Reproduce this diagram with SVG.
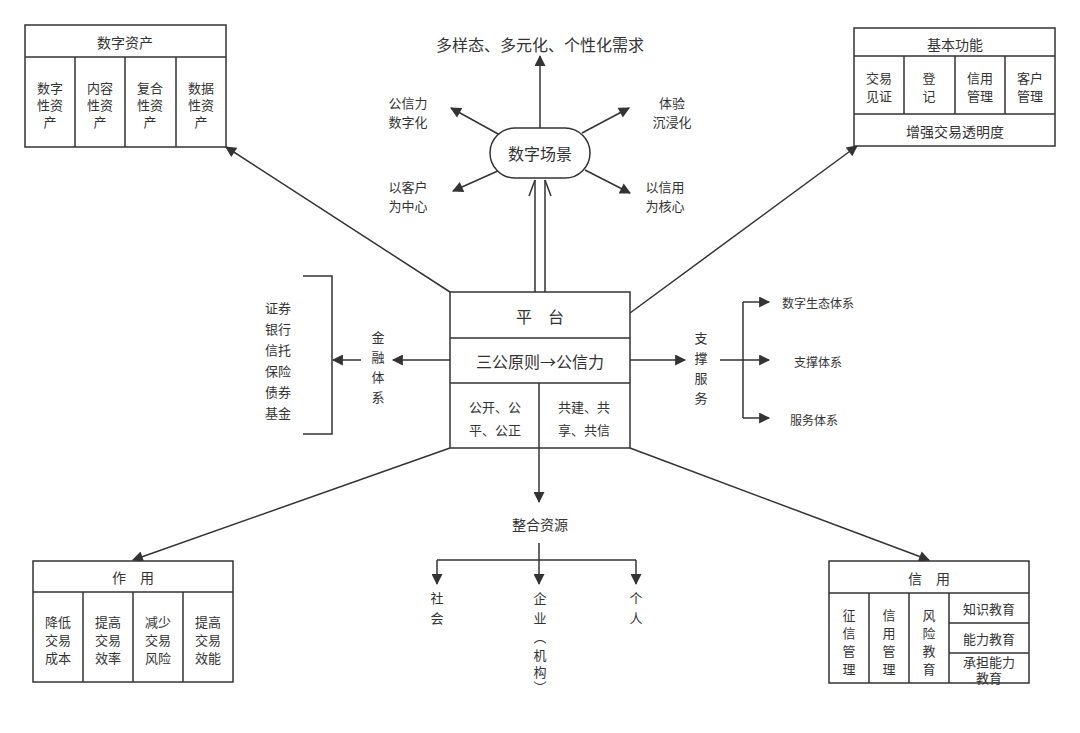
<svg xmlns="http://www.w3.org/2000/svg" width="1080" height="733" viewBox="0 0 1080 733">
<style>
text{font-family:"Noto Sans CJK SC","Liberation Sans",sans-serif;fill:#333;text-anchor:middle;dominant-baseline:central}
.s{font-size:13px}.m{font-size:14px}.l{font-size:16px}.x{font-size:12px}
.b{fill:#fff;stroke:#333;stroke-width:1.5}
.ln{fill:none;stroke:#333;stroke-width:1.5}
.c{fill:none;stroke:#333;stroke-width:1.5;marker-end:url(#a)}
</style>
<defs>
<marker id="a" viewBox="0 0 10 10" refX="9" refY="5" markerWidth="13" markerHeight="11" orient="auto" markerUnits="userSpaceOnUse"><path d="M0,0L10,5L0,10z" fill="#333"/></marker>
</defs>
<rect width="1080" height="733" fill="#fff"/>
<g id="connectors">
<path class="c" d="M450,292L226,147"/>
<path class="c" d="M630,313L857,146"/>
<path class="c" d="M450,448L133,560"/>
<path class="c" d="M630,448L929,560"/>
<path class="ln" d="M535,292V180M545,292V180"/>
<path class="ln" d="M535,180L529,196M545,180L551,196"/>
<path class="c" d="M540,128V56"/>
<path class="c" d="M500,135L451,108"/>
<path class="c" d="M582,133L629,108"/>
<path class="c" d="M500,170L453,191"/>
<path class="c" d="M585,170L630,193"/>
<path class="c" d="M450,360H393"/>
<path class="c" d="M361,360H333"/>
<path class="ln" d="M303,276H332V434H303"/>
<path class="c" d="M630,360H685"/>
<path class="c" d="M720,360H769"/>
<path class="ln" d="M743,302V418"/>
<path class="c" d="M743,302H769"/>
<path class="c" d="M743,418H769"/>
<path class="c" d="M539,448V502"/>
<path class="c" d="M539,543V584"/>
<path class="ln" d="M437,560H636"/>
<path class="c" d="M437,560V584"/>
<path class="c" d="M636,560V584"/>
</g>
<g id="digital-assets">
<rect class="b" x="25" y="25" width="201" height="122"/>
<path class="ln" d="M25,57H226M75,57V147M125,57V147M176,57V147"/>
<text class="m" x="125" y="42">数字资产</text>
<text class="s" x="50" y="87">数字</text><text class="s" x="50" y="104">性资</text><text class="s" x="50" y="121">产</text>
<text class="s" x="100" y="87">内容</text><text class="s" x="100" y="104">性资</text><text class="s" x="100" y="121">产</text>
<text class="s" x="150" y="87">复合</text><text class="s" x="150" y="104">性资</text><text class="s" x="150" y="121">产</text>
<text class="s" x="201" y="87">数据</text><text class="s" x="201" y="104">性资</text><text class="s" x="201" y="121">产</text>
</g>
<g id="basic-functions">
<rect class="b" x="854" y="28" width="201" height="118"/>
<path class="ln" d="M854,56H1055M854,114H1055M904,56V114M955,56V114M1005,56V114"/>
<text class="m" x="955" y="44">基本功能</text>
<text class="s" x="879" y="77">交易</text><text class="s" x="879" y="95">见证</text>
<text class="s" x="929" y="77">登</text><text class="s" x="929" y="95">记</text>
<text class="s" x="980" y="77">信用</text><text class="s" x="980" y="95">管理</text>
<text class="s" x="1030" y="77">客户</text><text class="s" x="1030" y="95">管理</text>
<text class="m" x="955" y="131">增强交易透明度</text>
</g>
<g id="scene">
<rect class="b" x="490" y="128" width="100" height="50" rx="25"/>
<text class="l" x="540" y="153">数字场景</text>
</g>
<g id="scene-labels">
<text class="l" x="540" y="44">多样态、多元化、个性化需求</text>
<text class="s" x="408" y="102">公信力</text><text class="s" x="408" y="121">数字化</text>
<text class="s" x="672" y="102">体验</text><text class="s" x="672" y="121">沉浸化</text>
<text class="s" x="408" y="186">以客户</text><text class="s" x="408" y="205">为中心</text>
<text class="s" x="665" y="186">以信用</text><text class="s" x="665" y="205">为核心</text>
</g>
<g id="platform">
<rect class="b" x="450" y="292" width="180" height="156"/>
<path class="ln" d="M450,338H630M450,383H630M539,383V448"/>
<text class="l" x="540" y="316">平　台</text>
<text class="l" x="540" y="361">三公原则→公信力</text>
<text class="s" x="495" y="406">公开、公</text><text class="s" x="495" y="429">平、公正</text>
<text class="s" x="584" y="406">共建、共</text><text class="s" x="584" y="429">享、共信</text>
</g>
<g id="finance">
<text class="s" x="378" y="336">金</text><text class="s" x="378" y="356">融</text><text class="s" x="378" y="376">体</text><text class="s" x="378" y="396">系</text>
<text class="s" x="278" y="307">证券</text><text class="s" x="278" y="328">银行</text><text class="s" x="278" y="349">信托</text><text class="s" x="278" y="370">保险</text><text class="s" x="278" y="391">债券</text><text class="s" x="278" y="412">基金</text>
</g>
<g id="support">
<text class="s" x="701" y="337">支</text><text class="s" x="701" y="357">撑</text><text class="s" x="701" y="377">服</text><text class="s" x="701" y="397">务</text>
<text class="x" x="818" y="302">数字生态体系</text>
<text class="x" x="818" y="361">支撑体系</text>
<text class="x" x="814" y="419">服务体系</text>
</g>
<g id="resources">
<text class="m" x="540" y="524">整合资源</text>
<text class="s" x="437" y="597">社</text><text class="s" x="437" y="617">会</text>
<text class="s" x="540" y="597">企</text><text class="s" x="540" y="617">业</text><text class="s" x="540" y="636">︵</text><text class="s" x="540" y="654">机</text><text class="s" x="540" y="671">构</text><text class="s" x="540" y="686">︶</text>
<text class="s" x="636" y="597">个</text><text class="s" x="636" y="617">人</text>
</g>
<g id="role">
<rect class="b" x="33" y="561" width="200" height="121"/>
<path class="ln" d="M33,592H233M83,592V682M133,592V682M183,592V682"/>
<text class="m" x="133" y="577">作　用</text>
<text class="s" x="58" y="621">降低</text><text class="s" x="58" y="639">交易</text><text class="s" x="58" y="657">成本</text>
<text class="s" x="108" y="621">提高</text><text class="s" x="108" y="639">交易</text><text class="s" x="108" y="657">效率</text>
<text class="s" x="158" y="621">减少</text><text class="s" x="158" y="639">交易</text><text class="s" x="158" y="657">风险</text>
<text class="s" x="208" y="621">提高</text><text class="s" x="208" y="639">交易</text><text class="s" x="208" y="657">效能</text>
</g>
<g id="credit">
<rect class="b" x="829" y="561" width="200" height="122"/>
<path class="ln" d="M829,593H1029M869,593V683M909,593V683M949,593V683M949,623H1029M949,653H1029"/>
<text class="m" x="929" y="578">信　用</text>
<text class="s" x="849" y="614">征</text><text class="s" x="849" y="632">信</text><text class="s" x="849" y="650">管</text><text class="s" x="849" y="668">理</text>
<text class="s" x="889" y="614">信</text><text class="s" x="889" y="632">用</text><text class="s" x="889" y="650">管</text><text class="s" x="889" y="668">理</text>
<text class="s" x="929" y="614">风</text><text class="s" x="929" y="632">险</text><text class="s" x="929" y="650">教</text><text class="s" x="929" y="668">育</text>
<text class="s" x="989" y="608">知识教育</text>
<text class="s" x="989" y="638">能力教育</text>
<text class="s" x="989" y="661">承担能力</text><text class="s" x="989" y="677">教育</text>
</g>
</svg>
